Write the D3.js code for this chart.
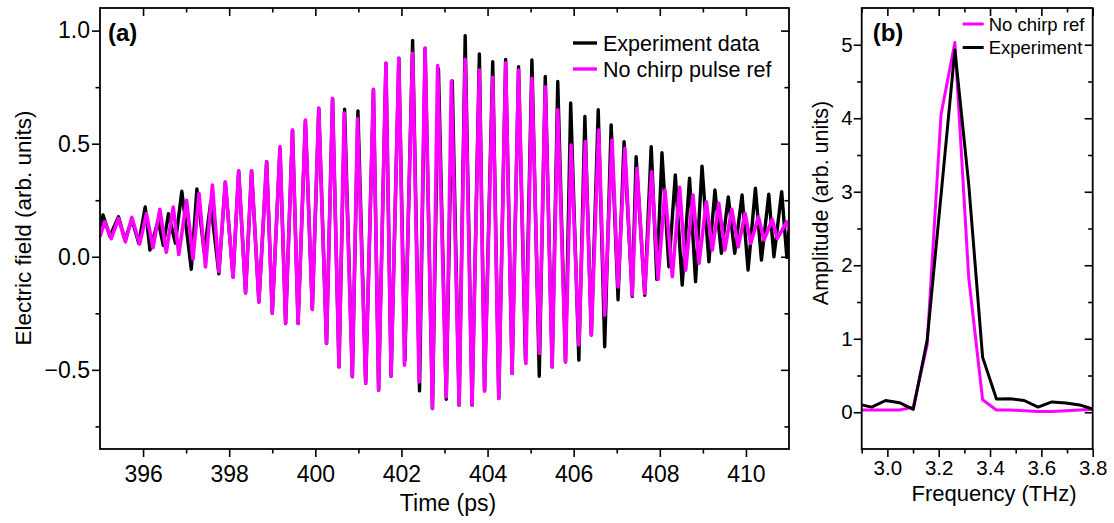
<!DOCTYPE html>
<html>
<head>
<meta charset="utf-8">
<script src="https://d3js.org/d3.v7.min.js"></script>
<style>
  body { margin: 0; background: #fff; }
  svg text { font-family: "Liberation Sans", Arial, sans-serif; fill: #000; }
</style>
</head>
<body>
<div id="wrapper"></div>
<script>
// ---------- PANEL (a) DATA: time-domain field (peaks / troughs)
const timeExp = [395.00, 395.07, 395.23, 395.43, 395.58, 395.74, 395.90, 396.05, 396.16, 396.35,
  396.47, 396.59, 396.75, 396.90, 397.12, 397.25, 397.42, 397.57, 397.76, 397.91,
  398.09, 398.22, 398.38, 398.52, 398.69, 398.87, 399.00, 399.18, 399.31, 399.47,
  399.60, 399.77, 399.93, 400.08, 400.26, 400.40, 400.55, 400.68, 400.86, 400.99,
  401.17, 401.35, 401.47, 401.64, 401.76, 401.94, 402.08, 402.26, 402.42, 402.55,
  402.72, 402.86, 403.04, 403.18, 403.34, 403.48, 403.64, 403.81, 403.93, 404.12,
  404.26, 404.42, 404.57, 404.72, 404.88, 405.03, 405.20, 405.34, 405.50, 405.63,
  405.81, 405.93, 406.12, 406.26, 406.41, 406.57, 406.72, 406.87, 407.03, 407.17,
  407.36, 407.45, 407.65, 407.80, 407.93, 408.05, 408.21, 408.36, 408.52, 408.69,
  408.83, 408.98, 409.14, 409.28, 409.43, 409.59, 409.74, 409.91, 410.05, 410.22,
  410.36, 410.53, 410.65, 410.83, 410.95, 411.05]
const fieldExp = [0.13, 0.185, 0.09, 0.177, 0.074, 0.165, 0.06, 0.22, 0.03, 0.16,
  0.05, 0.19, 0.06, 0.29, -0.055, 0.30, 0.02, 0.24, -0.075, 0.33,
  -0.09, 0.38, -0.16, 0.38, -0.20, 0.42, -0.25, 0.48, -0.295, 0.56,
  -0.295, 0.60, -0.233, 0.657, -0.383, 0.70, -0.487, 0.652, -0.53, 0.645,
  -0.56, 0.74, -0.59, 0.856, -0.528, 0.878, -0.46, 0.956, -0.593, 0.922,
  -0.671, 0.83, -0.63, 0.777, -0.656, 0.977, -0.656, 0.897, -0.593, 0.863,
  -0.627, 0.873, -0.516, 0.84, -0.46, 0.87, -0.528, 0.797, -0.487, 0.775,
  -0.465, 0.68, -0.457, 0.62, -0.346, 0.65, -0.398, 0.583, -0.19, 0.509,
  -0.175, 0.443, -0.17, 0.487, -0.10, 0.46, -0.044, 0.362, -0.125, 0.347,
  -0.11, 0.401, -0.022, 0.295, 0.015, 0.265, 0.015, 0.273, -0.059, 0.303,
  -0.015, 0.277, 0.0, 0.288, -0.003, 0.25]

const timeRef = [395.00, 395.11, 395.26, 395.43, 395.59, 395.74, 395.92, 396.08, 396.23, 396.39,
  396.54, 396.70, 396.83, 397.01, 397.16, 397.30, 397.45, 397.61, 397.76, 397.91,
  398.09, 398.22, 398.38, 398.52, 398.69, 398.87, 399.00, 399.18, 399.31, 399.47,
  399.60, 399.77, 399.93, 400.08, 400.26, 400.40, 400.55, 400.67, 400.86, 400.98,
  401.17, 401.35, 401.47, 401.64, 401.76, 401.94, 402.07, 402.26, 402.41, 402.55,
  402.72, 402.84, 403.04, 403.16, 403.34, 403.48, 403.64, 403.81, 403.93, 404.12,
  404.26, 404.42, 404.57, 404.72, 404.89, 405.03, 405.20, 405.34, 405.50, 405.63,
  405.81, 405.94, 406.12, 406.27, 406.41, 406.58, 406.72, 406.89, 407.03, 407.19,
  407.36, 407.47, 407.65, 407.81, 407.96, 408.12, 408.29, 408.46, 408.60, 408.77,
  408.91, 409.08, 409.22, 409.37, 409.51, 409.67, 409.82, 409.98, 410.11, 410.29,
  410.42, 410.61, 410.73, 410.95, 411.05]
const fieldRef = [0.09, 0.155, 0.08, 0.17, 0.066, 0.174, 0.056, 0.19, 0.04, 0.21,
  0.02, 0.22, 0.01, 0.25, -0.01, 0.28, -0.045, 0.317, -0.066, 0.33,
  -0.09, 0.38, -0.16, 0.38, -0.20, 0.42, -0.25, 0.487, -0.295, 0.56,
  -0.295, 0.605, -0.233, 0.657, -0.383, 0.70, -0.487, 0.635, -0.53, 0.61,
  -0.56, 0.74, -0.59, 0.856, -0.528, 0.878, -0.48, 0.90, -0.553, 0.922,
  -0.671, 0.845, -0.62, 0.777, -0.656, 0.873, -0.656, 0.826, -0.593, 0.794,
  -0.627, 0.858, -0.516, 0.826, -0.472, 0.789, -0.428, 0.752, -0.487, 0.65,
  -0.465, 0.494, -0.39, 0.509, -0.346, 0.56, -0.258, 0.516, -0.133, 0.48,
  -0.17, 0.391, -0.162, 0.376, -0.10, 0.295, -0.088, 0.307, -0.059, 0.273,
  -0.029, 0.243, 0.03, 0.236, 0.03, 0.21, 0.044, 0.192, 0.059, 0.177,
  0.074, 0.165, 0.081, 0.155, 0.09]

// ---------- PANEL (b) DATA: spectrum amplitude
const freq = [2.885, 2.939, 2.993, 3.047, 3.101, 3.155, 3.209, 3.263, 3.317,
  3.371, 3.425, 3.479, 3.533, 3.587, 3.641, 3.695, 3.749, 3.803]
const ampRef = [0.03, 0.03, 0.03, 0.03, 0.07, 0.92, 4.05, 5.03, 1.83,
  0.17, 0.03, 0.03, 0.02, 0.01, 0.01, 0.02, 0.03, 0.04]
const ampExp = [0.11, 0.07, 0.16, 0.13, 0.04, 0.98, 2.95, 4.93, 3.1,
  0.75, 0.18, 0.185, 0.16, 0.07, 0.14, 0.125, 0.10, 0.04]

// ---------- TICKS
const xMajorA = [396, 398, 400, 402, 404, 406, 408, 410]
const xMinorA = [397, 399, 401, 403, 405, 407, 409]
const yMajorA = [-0.5, 0, 0.5, 1.0]
const yMinorA = [-0.75, -0.25, 0.25, 0.75]
const xMajorB = [3.0, 3.2, 3.4, 3.6, 3.8]
const xMinorB = [2.9, 3.1, 3.3, 3.5, 3.7]
const yMajorB = [0, 1, 2, 3, 4, 5]
const yMinorB = [0.5, 1.5, 2.5, 3.5, 4.5]

const MAGENTA = "#ff00ff"

// ---------- CANVAS
const wrapper = d3.select("#wrapper")
  .append("svg")
  .attr("width", 1114)
  .attr("height", 523)

// draws mirrored Origin-style axes: outer ticks bottom/left, inner ticks top/right
function drawAxes(bounds, x, y, o) {
  const w = x.range()[1]
  const h = y.range()[0]
  const fmtY = o.yFormat
  const fmtX = o.xFormat

  const style = g => {
    g.select(".domain").remove()
    g.selectAll("line").attr("stroke", "#000").attr("stroke-width", 1.6)
    g.selectAll("text").attr("font-size", o.tickFont).attr("font-family", null)
  }

  // bottom
  bounds.append("g").attr("transform", `translate(0,${h})`)
    .call(d3.axisBottom(x).tickValues(o.xMajor).tickSize(8).tickPadding(o.xPad).tickFormat(fmtX))
    .call(style)
  bounds.append("g").attr("transform", `translate(0,${h})`)
    .call(d3.axisBottom(x).tickValues(o.xMinor).tickSize(4.5).tickFormat(""))
    .call(style)
  // top (inward)
  bounds.append("g")
    .call(d3.axisTop(x).tickValues(o.xMajor).tickSize(-8).tickFormat(""))
    .call(style)
  bounds.append("g")
    .call(d3.axisTop(x).tickValues(o.xMinor).tickSize(-4.5).tickFormat(""))
    .call(style)
  // left
  bounds.append("g")
    .call(d3.axisLeft(y).tickValues(o.yMajor).tickSize(8).tickPadding(o.yPad).tickFormat(fmtY))
    .call(style)
  bounds.append("g")
    .call(d3.axisLeft(y).tickValues(o.yMinor).tickSize(4.5).tickFormat(""))
    .call(style)
  // right (inward)
  bounds.append("g").attr("transform", `translate(${w},0)`)
    .call(d3.axisRight(y).tickValues(o.yMajor).tickSize(-8).tickFormat(""))
    .call(style)
  bounds.append("g").attr("transform", `translate(${w},0)`)
    .call(d3.axisRight(y).tickValues(o.yMinor).tickSize(-4.5).tickFormat(""))
    .call(style)

  // frame
  bounds.append("rect")
    .attr("width", w).attr("height", h)
    .attr("fill", "none").attr("stroke", "#000").attr("stroke-width", 1.8)
}

// =============== PANEL (a)
const boundsA = wrapper.append("g").attr("transform", "translate(100,8)")
const xA = d3.scaleLinear().domain([395, 411]).range([0, 689])
const yA = d3.scaleLinear().domain([-0.85, 1.1]).range([441, 0])

boundsA.append("clipPath").attr("id", "clipA")
  .append("rect").attr("width", 689).attr("height", 441)

const lineA = d3.line().x(d => xA(d[0])).y(d => yA(d[1]))
const plotA = boundsA.append("g").attr("clip-path", "url(#clipA)")

plotA.append("path")
  .attr("d", lineA(d3.zip(timeExp, fieldExp)))
  .attr("fill", "none").attr("stroke", "#000")
  .attr("stroke-width", 3.4).attr("stroke-linejoin", "round")

plotA.append("path")
  .attr("d", lineA(d3.zip(timeRef, fieldRef)))
  .attr("fill", "none").attr("stroke", MAGENTA)
  .attr("stroke-width", 3.6).attr("stroke-linejoin", "round")

drawAxes(boundsA, xA, yA, {
  xMajor: xMajorA, xMinor: xMinorA, yMajor: yMajorA, yMinor: yMinorA,
  xFormat: d3.format("d"),
  yFormat: d => d < 0 ? "\u2212" + d3.format(".1f")(-d) : d3.format(".1f")(d),
  tickFont: 23, xPad: 9, yPad: 2
})

boundsA.append("text").attr("x", 8).attr("y", 33)
  .attr("font-size", 24).attr("font-weight", "bold").text("(a)")

// legend (a)
const legendA = [["Experiment data", "#000"], ["No chirp pulse ref", MAGENTA]]
legendA.forEach(([label, color], i) => {
  const yy = 35 + i * 26
  boundsA.append("line")
    .attr("x1", 473).attr("x2", 497).attr("y1", yy).attr("y2", yy)
    .attr("stroke", color).attr("stroke-width", 3.4)
  boundsA.append("text").attr("x", 503).attr("y", yy + 7.5)
    .attr("font-size", 21.5).text(label)
})

wrapper.append("text")
  .attr("transform", "translate(31,228) rotate(-90)")
  .attr("text-anchor", "middle").attr("font-size", 22.5)
  .text("Electric field (arb. units)")

wrapper.append("text")
  .attr("x", 448).attr("y", 511)
  .attr("text-anchor", "middle").attr("font-size", 23)
  .text("Time (ps)")

// =============== PANEL (b)
const boundsB = wrapper.append("g").attr("transform", "translate(861.7,8)")
const xB = d3.scaleLinear().domain([2.9, 3.8]).range([0, 231])
const yB = d3.scaleLinear().domain([-0.5, 5.5]).range([441, 0])

boundsB.append("clipPath").attr("id", "clipB")
  .append("rect").attr("width", 231).attr("height", 441)

const lineB = d3.line().x(d => xB(d[0])).y(d => yB(d[1]))
const plotB = boundsB.append("g").attr("clip-path", "url(#clipB)")

plotB.append("path")
  .attr("d", lineB(d3.zip(freq, ampRef)))
  .attr("fill", "none").attr("stroke", MAGENTA)
  .attr("stroke-width", 3).attr("stroke-linejoin", "round")

plotB.append("path")
  .attr("d", lineB(d3.zip(freq, ampExp)))
  .attr("fill", "none").attr("stroke", "#000")
  .attr("stroke-width", 3).attr("stroke-linejoin", "round")

drawAxes(boundsB, xB, yB, {
  xMajor: xMajorB, xMinor: xMinorB, yMajor: yMajorB, yMinor: yMinorB,
  xFormat: d3.format(".1f"), yFormat: d3.format("d"),
  tickFont: 20.5, xPad: 3, yPad: 1
})

boundsB.append("text").attr("x", 11).attr("y", 33)
  .attr("font-size", 24).attr("font-weight", "bold").text("(b)")

// legend (b)
const legendB = [["No chirp ref", MAGENTA], ["Experiment", "#000"]]
legendB.forEach(([label, color], i) => {
  const yy = 16 + i * 23.5
  boundsB.append("line")
    .attr("x1", 101).attr("x2", 122).attr("y1", yy).attr("y2", yy)
    .attr("stroke", color).attr("stroke-width", 3)
  boundsB.append("text").attr("x", 127).attr("y", yy + 6.5)
    .attr("font-size", 18.5).text(label)
})

wrapper.append("text")
  .attr("transform", "translate(828,203) rotate(-90)")
  .attr("text-anchor", "middle").attr("font-size", 21.5)
  .text("Amplitude (arb. units)")

wrapper.append("text")
  .attr("x", 994).attr("y", 501)
  .attr("text-anchor", "middle").attr("font-size", 22)
  .text("Frequency (THz)")
</script>
</body>
</html>
